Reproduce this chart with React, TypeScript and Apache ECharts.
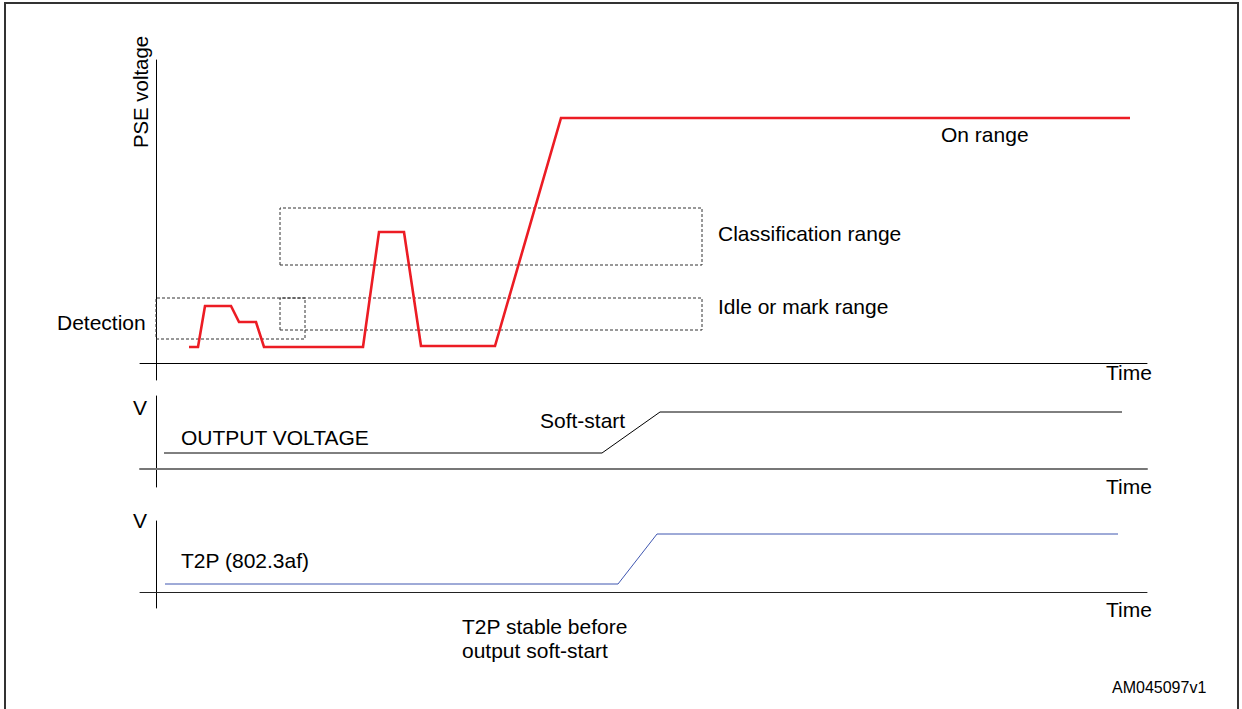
import React, { useEffect, useRef } from "react";
import * as echarts from "echarts";

// PSE voltage trace (time units, voltage units)
const pseTime = [33, 42, 49, 75, 83, 100, 108, 207, 223, 248, 265, 339, 405, 974];
const pseVolt = [16, 16, 57, 57, 41, 41, 16, 16, 131, 131, 17, 17, 245, 245];

// dotted ranges [x0, x1, y0, y1]
const classificationBox = [124, 546, 98, 155];
const idleBox = [124, 546, 33, 65];
const detectionBox = [0, 149, 24, 65];

// Output voltage trace
const outTime = [8, 446, 504, 966];
const outVolt = [16, 16, 57, 57];

// T2P trace
const t2pTime = [9, 462, 501, 962];
const t2pVolt = [8, 8, 58, 58];

const FONT = "'Liberation Sans', Arial, Helvetica, sans-serif";

function boxData(b: number[]) {
  const [x0, x1, y0, y1] = b;
  return [
    [x0, y0],
    [x1, y0],
    [x1, y1],
    [x0, y1],
    [x0, y0],
  ];
}

function zip(xs: number[], ys: number[]) {
  return xs.map((x, i) => [x, ys[i]]);
}

export default function App() {
  const ref = useRef<HTMLDivElement>(null);
  useEffect(() => {
    if (!ref.current) return;
    const chart = echarts.init(ref.current, null, { renderer: "svg" });

    const xAxisBase = (gridIndex: number, color: string, width: number) => ({
      type: "value" as const,
      gridIndex,
      min: -16,
      max: 991,
      axisLine: { show: true, onZero: true, lineStyle: { color, width } },
      axisTick: { show: false },
      axisLabel: { show: false },
      splitLine: { show: false },
    });
    const yAxisBase = (gridIndex: number, min: number, max: number) => ({
      type: "value" as const,
      gridIndex,
      min,
      max,
      axisLine: { show: true, onZero: true, lineStyle: { color: "#000", width: 1 } },
      axisTick: { show: false },
      axisLabel: { show: false },
      splitLine: { show: false },
    });

    const dotted = { color: "#333", width: 1, type: [3, 2] as number[] };

    const txt = (text: string, x: number, y: number, size = 21, extra: any = {}) => ({
      type: "text",
      x,
      y,
      silent: true,
      ...extra,
      style: {
        text,
        fill: "#000",
        font: `${size}px ${FONT}`,
        textAlign: extra.align || "left",
        textVerticalAlign: "middle",
      },
    });

    const option: any = {
      animation: false,
      backgroundColor: "#fff",
      grid: [
        { left: 140, right: 95, top: 60, bottom: 329 },
        { left: 140, right: 95, top: 396, bottom: 222 },
        { left: 140, right: 95, top: 521, bottom: 101 },
      ],
      xAxis: [xAxisBase(0, "#000", 1), xAxisBase(1, "#777", 2), xAxisBase(2, "#222", 1)],
      yAxis: [yAxisBase(0, -17, 303), yAxisBase(1, -18, 73), yAxisBase(2, -16, 71)],
      series: [
        {
          type: "line",
          xAxisIndex: 0,
          yAxisIndex: 0,
          data: boxData(classificationBox),
          symbol: "none",
          lineStyle: dotted,
          silent: true,
        },
        {
          type: "line",
          xAxisIndex: 0,
          yAxisIndex: 0,
          data: boxData(idleBox),
          symbol: "none",
          lineStyle: dotted,
          silent: true,
        },
        {
          type: "line",
          xAxisIndex: 0,
          yAxisIndex: 0,
          data: boxData(detectionBox),
          symbol: "none",
          lineStyle: dotted,
          silent: true,
        },
        {
          type: "line",
          xAxisIndex: 0,
          yAxisIndex: 0,
          data: zip(pseTime, pseVolt),
          symbol: "none",
          lineStyle: { color: "#ec1c24", width: 2.6, join: "miter" },
          silent: true,
        },
        {
          type: "line",
          xAxisIndex: 1,
          yAxisIndex: 1,
          data: zip(outTime, outVolt),
          symbol: "none",
          lineStyle: { color: "#000", width: 1 },
          silent: true,
        },
        {
          type: "line",
          xAxisIndex: 2,
          yAxisIndex: 2,
          data: zip(t2pTime, t2pVolt),
          symbol: "none",
          lineStyle: { color: "#3f56b0", width: 1 },
          silent: true,
        },
      ],
      graphic: [
        {
          type: "rect",
          shape: { x: 5, y: 3, width: 1233, height: 712 },
          style: { fill: "none", stroke: "#333", lineWidth: 2 },
          silent: true,
        },
        txt("PSE voltage", 141, 92, 20.4, { rotation: Math.PI / 2, align: "center" }),
        txt("On range", 941, 134),
        txt("Classification range", 718, 233),
        txt("Idle or mark range", 718, 306),
        txt("Detection", 57, 322),
        txt("Time", 1106, 372),
        txt("V", 133, 407),
        txt("OUTPUT VOLTAGE", 181, 437),
        txt("Soft-start", 540, 420),
        txt("Time", 1106, 486),
        txt("V", 133, 520),
        txt("T2P (802.3af)", 181, 560),
        txt("Time", 1106, 609),
        txt("T2P stable before", 462, 626),
        txt("output soft-start", 462, 650),
        txt("AM045097v1", 1112, 687, 16),
      ],
    };
    chart.setOption(option);
    return () => chart.dispose();
  }, []);
  return (
    <div
      ref={ref}
      style={{ position: "fixed", left: 0, top: 0, width: 1242, height: 709 }}
    />
  );
}
